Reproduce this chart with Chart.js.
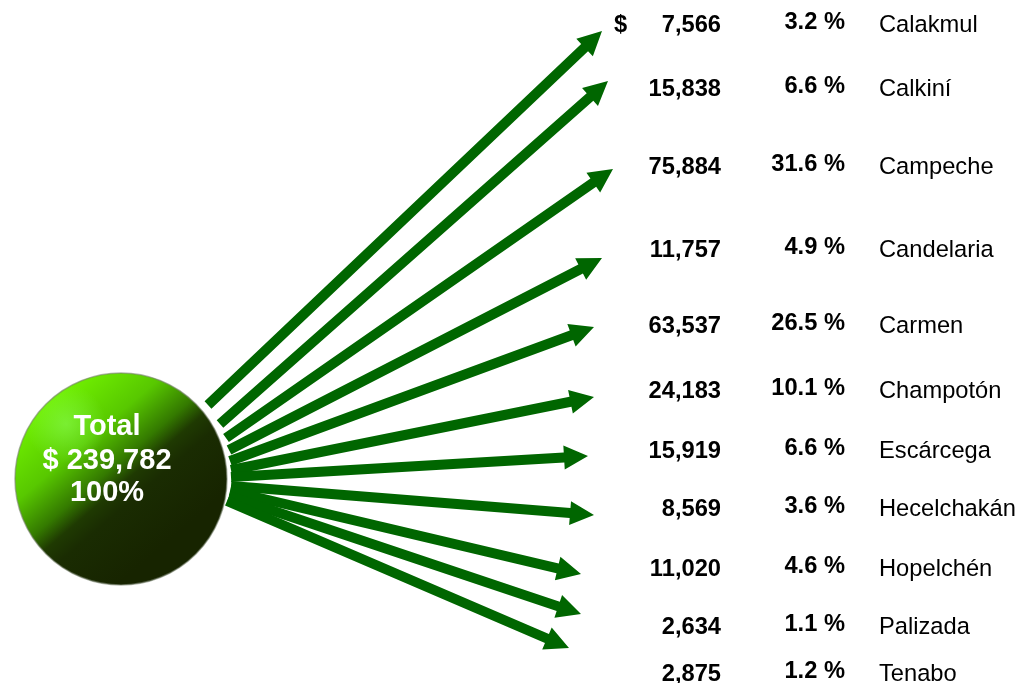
<!DOCTYPE html>
<html>
<head>
<meta charset="utf-8">
<script src="https://cdn.jsdelivr.net/npm/chart.js@4.4.1/dist/chart.umd.min.js"></script>
<style>
  html, body { margin: 0; padding: 0; background: #fff; }
  #wrap { width: 1021px; height: 683px; position: relative; }
</style>
</head>
<body>
<div id="wrap"><canvas id="chart"></canvas></div>
<script>
// data
const municipios = ["Calakmul", "Calkiní", "Campeche", "Candelaria", "Carmen", "Champotón",
  "Escárcega", "Hecelchakán", "Hopelchén", "Palizada", "Tenabo"];
const montos = [7566, 15838, 75884, 11757, 63537, 24183, 15919, 8569, 11020, 2634, 2875];
const porcentajes = [3.2, 6.6, 31.6, 4.9, 26.5, 10.1, 6.6, 3.6, 4.6, 1.1, 1.2];
const total = 239782;
const totalPct = 100;

// layout, in page units (0..1021 x 0..683)
const rowY = [25, 89, 167, 250, 326, 391, 451, 509, 569, 627, 674];
const arrowFrom = [[208, 405], [220, 424], [226, 438], [229, 450], [230, 461], [231, 470],
  [231, 477], [231, 486], [230, 491], [229, 496], [227, 501]];
const arrowTo = [[602, 31], [608, 81], [613, 169], [602, 258], [594, 327], [594, 397],
  [588, 456], [594, 515], [581, 574], [581, 614], [569, 648]];
const sphere = { x: 121, y: 479, r: 106 };

const green = "#006600";
const font = '"Liberation Sans", Arial, sans-serif';

const fmt = (n) => n.toLocaleString("en-US");

const diagram = {
  id: "diagram",
  afterDraw(chart) {
    const ctx = chart.ctx;
    const sx = chart.scales.x, sy = chart.scales.y;
    const px = (v) => sx.getPixelForValue(v);
    const py = (v) => sy.getPixelForValue(v);

    ctx.save();

    // arrows
    ctx.fillStyle = green;
    for (let i = 0; i < municipios.length; i++) {
      const x0 = px(arrowFrom[i][0]), y0 = py(arrowFrom[i][1]);
      const x1 = px(arrowTo[i][0]), y1 = py(arrowTo[i][1]);
      const a = Math.atan2(y1 - y0, x1 - x0);
      const len = Math.hypot(x1 - x0, y1 - y0);
      const head = 24, hw = 12, sw = 5;
      ctx.save();
      ctx.translate(x0, y0);
      ctx.rotate(a);
      ctx.beginPath();
      ctx.moveTo(0, -sw);
      ctx.lineTo(len - head, -sw);
      ctx.lineTo(len - head, -hw);
      ctx.lineTo(len, 0);
      ctx.lineTo(len - head, hw);
      ctx.lineTo(len - head, sw);
      ctx.lineTo(0, sw);
      ctx.closePath();
      ctx.fill();
      ctx.restore();
    }

    // sphere
    const cx = px(sphere.x), cy = py(sphere.y), r = sphere.r;
    const g = ctx.createLinearGradient(cx - 70, cy - 80, cx + 50, cy + 60);
    g.addColorStop(0, "#70f000");
    g.addColorStop(0.3, "#58c800");
    g.addColorStop(0.5, "#347a00");
    g.addColorStop(0.6, "#1f3a02");
    g.addColorStop(0.7, "#1a2c02");
    g.addColorStop(1, "#172400");
    ctx.beginPath();
    ctx.arc(cx, cy, r, 0, Math.PI * 2);
    ctx.fillStyle = g;
    ctx.fill();
    const hl = ctx.createRadialGradient(cx - 55, cy - 55, 0, cx - 55, cy - 55, 40);
    hl.addColorStop(0, "rgba(140,255,90,0.55)");
    hl.addColorStop(1, "rgba(140,255,90,0)");
    ctx.fillStyle = hl;
    ctx.fill();
    ctx.lineWidth = 1.5;
    ctx.strokeStyle = "rgba(120,130,110,0.6)";
    ctx.stroke();

    ctx.fillStyle = "#ffffff";
    ctx.textAlign = "center";
    ctx.textBaseline = "middle";
    ctx.font = "bold 29px " + font;
    ctx.fillText("Total", cx - 14, cy - 52);
    ctx.fillText("$ " + fmt(total), cx - 14, cy - 18);
    ctx.fillText(totalPct + "%", cx - 14, cy + 14);

    // table text
    ctx.fillStyle = "#000000";
    ctx.font = "bold 23.7px " + font;
    ctx.textAlign = "left";
    ctx.fillText("$", px(614), py(rowY[0]));
    for (let i = 0; i < municipios.length; i++) {
      const y = py(rowY[i]);
      ctx.font = "bold 23.7px " + font;
      ctx.textAlign = "right";
      ctx.fillText(fmt(montos[i]), px(721), y);
      ctx.fillText(porcentajes[i].toFixed(1) + " %", px(845), y - 3);
      ctx.font = "23.7px " + font;
      ctx.textAlign = "left";
      ctx.fillText(municipios[i], px(879), y);
    }
    ctx.restore();
  }
};

new Chart(document.getElementById("chart"), {
  type: "scatter",
  data: { datasets: [{ data: [], pointRadius: 0 }] },
  options: {
    responsive: true,
    maintainAspectRatio: false,
    animation: false,
    layout: { padding: 0 },
    plugins: { legend: { display: false }, tooltip: { enabled: false } },
    scales: {
      x: { type: "linear", min: 0, max: 1021, display: false },
      y: { type: "linear", min: 0, max: 683, reverse: true, display: false }
    }
  },
  plugins: [diagram]
});
</script>
</body>
</html>
